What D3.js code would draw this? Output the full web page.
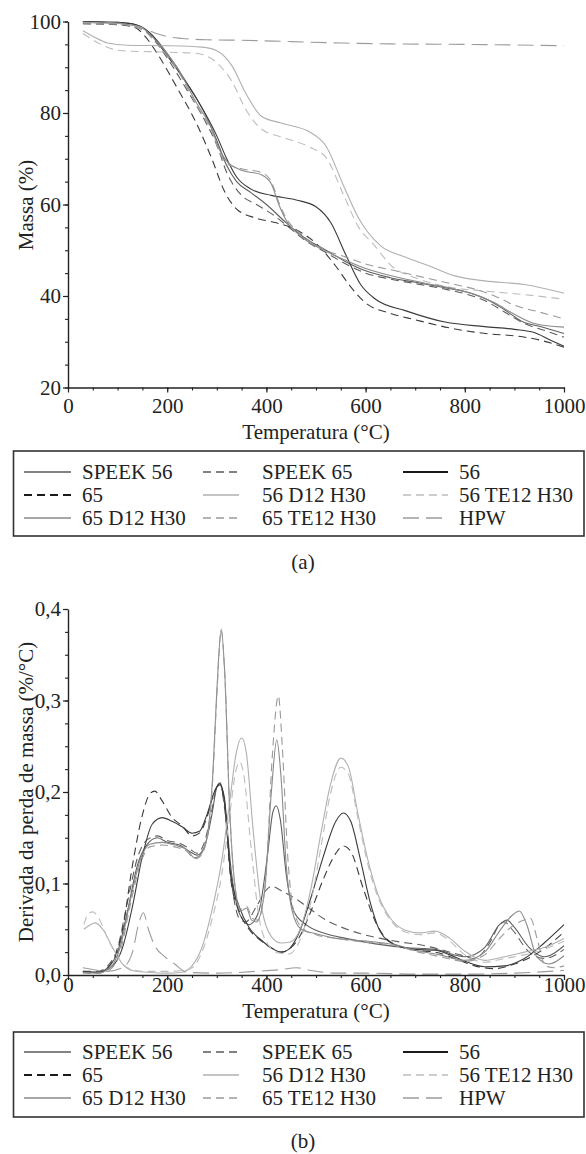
<!DOCTYPE html>
<html><head><meta charset="utf-8">
<script src="https://cdn.jsdelivr.net/npm/d3@7"></script>
<style>
body{margin:0;background:#fff}
text{font-family:"Liberation Serif","Times New Roman",serif;fill:#222}
</style></head>
<body><svg id="c" width="586" height="1154"></svg>
<script>
// ---------- DATA ----------
const seriesNames = ["SPEEK 56","SPEEK 65","56","65","56 D12 H30","56 TE12 H30","65 D12 H30","65 TE12 H30","HPW"];
const xTicks = [0,200,400,600,800,1000];
const yTicksA = [20,40,60,80,100];
const yTicksB = [0,0.1,0.2,0.3,0.4];

// (a) TGA: [temperature, mass %]
const tgaSPEEK56 = [[30,100],[100,99.8],[140,99.2],[170,97],[200,93],[240,86.5],[280,79],[300,74],[320,68.5],[340,65],[370,62.5],[400,60],[440,56],[480,52.5],[520,50],[560,47.5],[600,45.5],[650,44],[700,43],[760,41.8],[800,41],[840,39.5],[880,37],[920,34.2],[950,33.4],[1000,31.8]];
const tgaSPEEK65 = [[30,99.8],[100,99.6],[140,99],[170,96.5],[200,92],[240,85],[280,77.5],[300,73],[320,67],[350,62],[380,60],[410,58],[440,55.5],[480,52],[520,49.5],[560,47],[600,45],[650,43.7],[700,42.7],[760,41.5],[800,40.5],[840,39],[880,36.5],[920,34],[960,32.5],[1000,31]];
const tga56 = [[30,100],[100,99.8],[140,99.2],[165,97.5],[190,94],[220,89.5],[260,83],[300,75],[320,70],[340,66],[370,63.3],[410,62],[460,61],[500,59.5],[530,56],[560,49],[590,42.5],[620,39.3],[680,36.8],[760,34.3],[840,33.3],[900,32.7],[940,32],[970,30.5],[1000,29]];
const tga65 = [[30,99.5],[100,99.3],[135,98.7],[155,96.8],[180,93],[220,85.5],[260,77.5],[290,70],[315,63],[340,59],[380,57],[420,56],[460,54.5],[500,51.5],[540,46.5],[570,42],[600,38.5],[650,36.2],[700,34.8],[780,32.8],[850,31.7],[900,31.3],[950,30.4],[1000,28.8]];
const tga56D12 = [[30,98],[50,96.8],[80,95.3],[120,94.8],[200,94.7],[270,94.4],[300,93.6],[330,90.4],[360,84],[390,79.3],[430,77.8],[490,75.7],[520,72.8],[556,64],[586,57],[630,51],[680,48.5],[730,46.5],[780,44.4],[840,43.3],[920,42.5],[1000,40.6]];
const tga56TE12 = [[30,97.4],[50,96],[70,94.8],[110,93.6],[200,93.3],[260,93],[300,91],[330,87],[360,80.5],[390,76.5],[435,74.6],[490,72.4],[520,70.3],[556,62],[586,55],[616,51.3],[654,46.4],[700,44],[766,42],[850,41],[920,40.3],[1000,39.3]];
const tga65D12 = [[30,99.8],[100,99.6],[150,98.5],[180,95.5],[220,90],[260,82],[290,76.5],[305,72],[320,69.5],[350,67.5],[390,66.5],[410,64.5],[425,60],[440,56.5],[470,53],[510,50.3],[560,47.8],[600,46],[660,44.2],[720,42.8],[780,41.5],[820,40.3],[860,38.5],[900,36],[940,34],[1000,33.2]];
const tga65TE12 = [[30,99.5],[100,99.4],[150,98.2],[180,95],[220,89.5],[260,81.5],[290,76],[305,71.5],[320,69],[350,67.8],[390,67],[410,65],[425,60.5],[440,57],[470,53.5],[510,50.5],[560,48.5],[600,47],[660,45.5],[720,44],[780,42.5],[820,41.5],[860,40],[900,38],[950,36.5],[1000,35]];
const tgaHPW = [[30,99.8],[80,99.7],[120,99.4],[140,99],[160,98.2],[180,97.3],[200,96.7],[230,96.3],[280,96],[350,95.9],[450,95.6],[550,95.3],[650,95.1],[800,95],[1000,94.7]];

// (b) DTG: [temperature, %/°C]
const dtgSPEEK56 = [[30,0.003],[60,0.003],[80,0.008],[100,0.025],[120,0.07],[140,0.12],[160,0.143],[180,0.15],[200,0.145],[225,0.142],[245,0.135],[260,0.131],[275,0.14],[290,0.175],[300,0.205],[307,0.21],[315,0.19],[330,0.11],[345,0.068],[365,0.055],[385,0.07],[402,0.13],[413,0.178],[420,0.185],[428,0.17],[440,0.11],[455,0.07],[480,0.055],[520,0.045],[560,0.04],[620,0.034],[680,0.03],[740,0.028],[800,0.02],[840,0.03],[870,0.055],[885,0.06],[900,0.052],[930,0.03],[960,0.02],[1000,0.032]];
const dtgSPEEK65 = [[30,0.004],[60,0.004],[80,0.01],[100,0.03],[120,0.08],[140,0.128],[160,0.148],[180,0.152],[200,0.147],[225,0.144],[245,0.138],[260,0.133],[275,0.145],[290,0.18],[300,0.205],[307,0.208],[315,0.185],[330,0.1],[345,0.062],[358,0.058],[380,0.075],[400,0.093],[411,0.097],[430,0.092],[460,0.083],[481,0.075],[520,0.06],[548,0.053],[590,0.045],[630,0.04],[670,0.036],[710,0.033],[750,0.028],[790,0.022],[820,0.018],[850,0.035],[870,0.055],[880,0.058],[895,0.05],[930,0.025],[960,0.018],[1000,0.028]];
const dtg56 = [[30,0.004],[60,0.003],[90,0.01],[110,0.03],[130,0.075],[150,0.13],[170,0.165],[190,0.172],[210,0.168],[230,0.162],[250,0.155],[265,0.157],[280,0.175],[295,0.2],[305,0.209],[315,0.195],[328,0.11],[345,0.075],[365,0.052],[390,0.038],[415,0.028],[430,0.025],[445,0.028],[465,0.045],[490,0.085],[515,0.13],[540,0.168],[555,0.177],[570,0.168],[590,0.125],[610,0.078],[630,0.047],[660,0.033],[700,0.028],[740,0.027],[770,0.022],[800,0.015],[840,0.009],[880,0.01],[920,0.018],[960,0.035],[1000,0.055]];
const dtg65 = [[30,0.003],[60,0.002],[90,0.015],[110,0.05],[130,0.12],[150,0.175],[165,0.198],[175,0.201],[190,0.19],[210,0.172],[230,0.163],[250,0.152],[265,0.155],[280,0.172],[295,0.2],[305,0.208],[315,0.19],[328,0.105],[345,0.07],[365,0.05],[390,0.037],[415,0.028],[430,0.025],[445,0.028],[465,0.04],[490,0.07],[515,0.105],[540,0.133],[555,0.141],[570,0.135],[595,0.095],[620,0.058],[650,0.036],[700,0.027],[740,0.025],[780,0.018],[820,0.01],[860,0.007],[900,0.012],[950,0.025],[1000,0.047]];
const dtg56D12 = [[32,0.05],[45,0.055],[55,0.057],[70,0.05],[90,0.03],[110,0.012],[130,0.005],[160,0.003],[200,0.002],[230,0.003],[250,0.01],[270,0.03],[290,0.07],[310,0.125],[325,0.185],[340,0.245],[350,0.259],[359,0.245],[373,0.16],[390,0.075],[410,0.042],[430,0.035],[448,0.036],[468,0.05],[490,0.095],[510,0.155],[530,0.21],[550,0.237],[565,0.228],[585,0.175],[605,0.125],[625,0.088],[650,0.062],[680,0.049],[710,0.046],[740,0.048],[770,0.04],[800,0.026],[840,0.016],[880,0.02],[920,0.025],[960,0.03],[1000,0.04]];
const dtg56TE12 = [[32,0.055],[40,0.066],[50,0.069],[62,0.062],[80,0.04],[100,0.02],[120,0.008],[150,0.004],[200,0.004],[230,0.005],[250,0.008],[270,0.025],[290,0.06],[310,0.11],[325,0.17],[338,0.222],[346,0.233],[354,0.22],[369,0.14],[386,0.06],[405,0.032],[425,0.024],[445,0.023],[465,0.035],[490,0.08],[510,0.14],[530,0.2],[550,0.227],[565,0.22],[585,0.17],[605,0.12],[625,0.085],[650,0.06],[680,0.047],[710,0.044],[740,0.046],[770,0.037],[800,0.022],[840,0.014],[880,0.018],[920,0.022],[960,0.028],[1000,0.037]];
const dtg65D12 = [[30,0.003],[60,0.002],[85,0.008],[105,0.03],[125,0.08],[145,0.125],[165,0.143],[190,0.145],[215,0.142],[240,0.137],[255,0.128],[265,0.13],[280,0.15],[292,0.22],[300,0.31],[309,0.378],[316,0.33],[326,0.18],[336,0.1],[348,0.07],[360,0.073],[370,0.06],[380,0.058],[396,0.09],[410,0.2],[421,0.257],[429,0.22],[440,0.12],[452,0.07],[470,0.05],[500,0.045],[540,0.04],[580,0.038],[620,0.036],[660,0.033],[700,0.027],[750,0.022],[800,0.016],[840,0.025],[870,0.048],[895,0.065],[910,0.07],[925,0.055],[945,0.02],[970,0.012],[1000,0.021]];
const dtg65TE12 = [[30,0.002],[60,0.002],[85,0.006],[105,0.025],[125,0.075],[145,0.12],[165,0.14],[190,0.142],[215,0.14],[240,0.135],[255,0.127],[265,0.129],[280,0.148],[292,0.215],[300,0.305],[309,0.376],[316,0.33],[326,0.18],[336,0.1],[348,0.072],[360,0.075],[372,0.062],[382,0.06],[398,0.1],[412,0.24],[424,0.305],[432,0.25],[443,0.13],[455,0.07],[475,0.05],[500,0.044],[540,0.04],[580,0.037],[620,0.035],[660,0.032],[700,0.026],[750,0.02],[800,0.015],[840,0.022],[870,0.04],[900,0.055],[920,0.06],[932,0.062],[948,0.035],[962,0.01],[980,0.008],[1000,0.01]];
const dtgHPW = [[30,0.008],[50,0.006],[80,0.004],[110,0.008],[130,0.025],[142,0.055],[152,0.068],[162,0.05],[175,0.032],[195,0.02],[215,0.012],[240,0.003],[300,0.002],[380,0.004],[430,0.006],[460,0.008],[490,0.005],[540,0.002],[600,0.002],[700,0.001],[800,0.001],[900,0.002],[1000,0.005]];

const tgaData = [tgaSPEEK56,tgaSPEEK65,tga56,tga65,tga56D12,tga56TE12,tga65D12,tga65TE12,tgaHPW];
const dtgData = [dtgSPEEK56,dtgSPEEK65,dtg56,dtg65,dtg56D12,dtg56TE12,dtg65D12,dtg65TE12,dtgHPW];

// ---------- STYLES ----------
const colors = ["#5a5a5a","#5a5a5a","#1a1a1a","#1a1a1a","#b0b0b0","#bdbdbd","#8a8a8a","#9a9a9a","#9c9c9c"];
const plotColors = ["#5e5e5e","#5e5e5e","#3a3a3a","#3a3a3a","#b0b0b0","#bdbdbd","#8a8a8a","#9a9a9a","#9c9c9c"];
const dashes = [null,"8,5",null,"8,5",null,"8,5",null,"8,5","16,7"];
const lw = [1.1,1.1,1.1,1.1,1.1,1.1,1.1,1.1,1.1];
const legW = [1.4,1.4,2,2,1.4,1.4,1.4,1.4,1.4];

const svg = d3.select("#c");
const FS = 21;
const fmtB = d => d.toFixed(1).replace(".", ",");

function drawChart(g, yDomain, yRange, yTicks, yMinorStep, yFmt, data, xLabelBase, xTitleBase, yTitle, yTitleY){
  const x = d3.scaleLinear().domain([0,1000]).range([68,564]);
  const y = d3.scaleLinear().domain(yDomain).range(yRange);
  const line = d3.line().x(d=>x(d[0])).y(d=>y(d[1])).curve(d3.curveMonotoneX);
  const plot = g.append("g");
  data.forEach((s,i)=>{
    plot.append("path").attr("d", line(s)).attr("fill","none")
      .attr("stroke", plotColors[i]).attr("stroke-width", lw[i])
      .attr("stroke-dasharray", dashes[i]);
  });
  const xMinor = d3.range(0,1001,50);
  const yMinor = d3.range(yDomain[0], yDomain[1]+1e-9, yMinorStep);
  const bottomY = yRange[0];
  g.append("g").attr("transform",`translate(0,${bottomY})`)
    .call(d3.axisBottom(x).tickValues(xMinor).tickSize(3).tickFormat("").tickSizeOuter(0))
    .call(a=>a.select(".domain").remove())
    .selectAll("line").attr("stroke","#222").attr("stroke-width",1.1);
  g.append("g").attr("transform",`translate(68,0)`)
    .call(d3.axisLeft(y).tickValues(yMinor).tickSize(3).tickFormat("").tickSizeOuter(0))
    .call(a=>a.select(".domain").remove())
    .selectAll("line").attr("stroke","#222").attr("stroke-width",1.1);
  const ax = g.append("g").attr("transform",`translate(0,${bottomY})`)
    .call(d3.axisBottom(x).tickValues(xTicks).tickSize(5).tickSizeOuter(0).tickFormat(d3.format("d")));
  ax.select(".domain").attr("stroke","#222").attr("stroke-width",1.4);
  ax.selectAll(".tick line").attr("stroke","#222").attr("stroke-width",1.2);
  ax.selectAll(".tick text").attr("font-size",FS).attr("font-family",null).attr("fill","#222")
    .attr("y", xLabelBase - bottomY).attr("dy",null);
  const ay = g.append("g").attr("transform",`translate(68,0)`)
    .call(d3.axisLeft(y).tickValues(yTicks).tickSize(5).tickSizeOuter(0).tickFormat(yFmt));
  ay.select(".domain").attr("stroke","#222").attr("stroke-width",1.4);
  ay.selectAll(".tick line").attr("stroke","#222").attr("stroke-width",1.2);
  ay.selectAll(".tick text").attr("font-size",FS).attr("font-family",null).attr("fill","#222")
    .attr("x",-7).attr("dy","0.33em");
  g.append("text").attr("x",316).attr("y",xTitleBase).attr("text-anchor","middle")
    .attr("font-size",FS).text("Temperatura (°C)");
  g.append("text").attr("transform",`translate(33,${yTitleY}) rotate(-90)`).attr("text-anchor","middle")
    .attr("font-size",FS).text(yTitle);
}

function drawLegend(top, bottom, rows){
  const g = svg.append("g");
  g.append("rect").attr("x",13.5).attr("y",top).attr("width",570.5).attr("height",bottom-top)
    .attr("fill","none").attr("stroke","#333").attr("stroke-width",1.6);
  const cols = [{x1:24,x2:71,tx:82},{x1:203,x2:239,tx:262},{x1:403,x2:448,tx:459}];
  seriesNames.forEach((n,i)=>{
    const r = Math.floor(i/3), c = i%3, cy = rows[r];
    g.append("line").attr("x1",cols[c].x1).attr("x2",cols[c].x2).attr("y1",cy).attr("y2",cy)
      .attr("stroke",colors[i]).attr("stroke-width",legW[i]).attr("stroke-dasharray",dashes[i]);
    g.append("text").attr("x",cols[c].tx).attr("y",cy+7).attr("font-size",FS).text(n);
  });
}

// (a)
drawChart(svg.append("g"), [20,100], [387.5,21.5], yTicksA, 5, d3.format("d"), tgaData, 413, 439, "Massa (%)", 205);
drawLegend(451, 536, [472,495,518]);
svg.append("text").attr("x",303).attr("y",569).attr("text-anchor","middle").attr("font-size",FS).text("(a)");

// (b)
drawChart(svg.append("g"), [0,0.4], [975,609], yTicksB, 0.025, fmtB, dtgData, 992, 1018, "Derivada da perda de massa (%/°C)", 792);
drawLegend(1032, 1117, [1052,1075,1098]);
svg.append("text").attr("x",303).attr("y",1148).attr("text-anchor","middle").attr("font-size",FS).text("(b)");
</script></body></html>
